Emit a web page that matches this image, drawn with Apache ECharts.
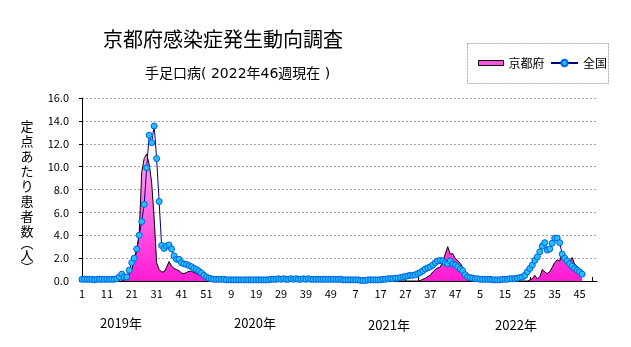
<!DOCTYPE html>
<html><head><meta charset="utf-8">
<script src="https://cdn.jsdelivr.net/npm/echarts@6/dist/echarts.min.js"></script>
<style>html,body{margin:0;padding:0;background:#fff}#c{width:631px;height:347px}</style>
</head><body><div id="c"></div>
<script>
// ---- data ----
const years = [2019, 2020, 2021, 2022];
const weeksPerYear = [52, 52, 52, 52];
const yearLabels = ['2019年', '2020年', '2021年', '2022年'];
const seriesNames = ['京都府', '全国'];
const titleText = '京都府感染症発生動向調査';
const subtitleText = '手足口病( 2022年46週現在 )';
const yAxisTitle = ['定点あたり患者数', '︵人︶'];
const yMin = 0, yMax = 16, yInterval = 2;

// 京都府 (per-sentinel, weekly)
const kyoto2019 = [0,0,0,0,0,0,0,0,0,0,0,0,0,0,0,0,0,
  0.1,0.3,0.6,1.0,1.8,2.6,4.2,9.5,10.7,11.1,10.2,8.6,5.5,1.6,1.0,0.8,0.8,1.2,1.7,1.3,
  1.1,1.0,0.9,0.7,0.65,0.75,0.85,0.85,0.75,0.65,0.55,0.45,0.4,0.3,0.15];
const kyoto2020 = [0,0,0,0,0,0,0,0,0,0,0,0,0,0,0,0,0,0,0,0,0,0,0,0,0,0,
  0,0,0,0,0,0,0,0,0,0,0,0,0,0,0,0,0,0,0,0,0,0,0,0,0,0];
const kyoto2021 = [0,0,0,0,0,0,0,0,0,0,0,0,0,0,0,0,0,0,0,0,0,0,0,0,0,0,0,0,0,0,0,0,
  0.05,0.15,0.25,0.4,0.5,0.8,1.0,1.15,1.2,1.75,2.35,3.0,2.35,2.4,1.95,1.8,1.55,1.2,0.6,0];
const kyoto2022 = [0,0,0,0,0,0,0,0,0,0,0,0,0,0,0,0,0,0,0,0,0,0,0,0,
  0.1,0.2,0.5,0.2,0.35,1.0,0.8,0.65,0.8,1.2,1.6,1.85,1.75,2.4,1.7,2.1,1.65,2.05,1.5,1.25,1.1,0.85];

// 全国
const nation2019 = [0.15,0.15,0.15,0.15,0.15,0.1,0.15,0.15,0.15,0.15,0.15,0.15,0.15,0.15,
  0.2,0.35,0.6,0.35,0.35,0.95,1.6,2.0,2.8,4.0,5.2,6.7,9.9,12.75,12.1,13.55,10.7,6.95,3.1,2.85,3.05,3.15,2.8,
  2.2,1.9,1.9,1.6,1.5,1.45,1.35,1.25,1.1,1.0,0.85,0.7,0.5,0.35,0.25];
const nation2020 = [0.2,0.15,0.15,0.15,0.15,0.15,0.1,0.1,0.1,0.1,0.1,0.1,0.1,0.1,0.1,0.1,0.1,0.1,0.1,0.1,
  0.1,0.1,0.1,0.1,0.15,0.15,0.15,0.2,0.15,0.2,0.15,0.15,0.2,0.15,0.2,0.15,0.15,0.2,0.15,0.2,
  0.15,0.15,0.15,0.15,0.15,0.15,0.15,0.15,0.15,0.15,0.15,0.15];
const nation2021 = [0.15,0.1,0.1,0.1,0.1,0.1,0.1,0.1,0.05,0.05,0.05,0.1,0.1,0.1,0.1,0.1,0.1,0.15,
  0.15,0.2,0.2,0.2,0.25,0.25,0.3,0.35,0.4,0.45,0.5,0.5,0.55,0.65,0.75,0.9,1.05,1.15,1.25,1.4,
  1.6,1.75,1.8,1.75,1.6,1.5,1.75,1.5,1.4,1.25,1.05,0.9,0.55,0.35];
const nation2022 = [0.3,0.25,0.2,0.2,0.15,0.15,0.15,0.15,0.15,0.1,0.1,0.1,0.1,0.15,0.15,0.15,
  0.2,0.2,0.2,0.25,0.3,0.35,
  0.5,0.8,1.1,1.4,1.8,2.1,2.55,3.05,3.35,2.7,2.8,3.3,3.75,3.75,3.35,2.35,2.0,1.75,1.5,1.3,1.1,0.95,0.8,0.6];

// ---- build ----
const categories = [];
years.forEach((y, k) => { for (let w = 1; w <= weeksPerYear[k]; w++) categories.push(y + '-' + w); });
const kyoto = kyoto2019.concat(kyoto2020, kyoto2021, kyoto2022);
const nation = nation2019.concat(nation2020, nation2021, nation2022);

const FONT = '"Noto Sans CJK JP", "Noto Sans", sans-serif';
const FONT_WIDE = '"DejaVu Sans", "Noto Sans CJK JP", sans-serif';
const chart = echarts.init(document.getElementById('c'), null, {renderer: 'canvas'});
chart.setOption({
  animation: false,
  backgroundColor: '#fff',
  title: [
    {text: titleText, left: 103, top: 29, padding: 0,
     textStyle: {fontSize: 20, fontWeight: 'normal', color: '#000', fontFamily: FONT}},
    {text: subtitleText, left: 145, top: 67, padding: 0,
     textStyle: {fontSize: 14, fontWeight: 'normal', color: '#000', fontFamily: FONT_WIDE}}
  ],
  legend: [
    {data: [{name: seriesNames[0], icon: 'rect',
             itemStyle: {color: '#ff55e0', borderColor: '#000', borderWidth: 1}}],
     left: 478, top: 57, padding: 0, itemWidth: 25, itemHeight: 5, itemGap: 0,
     textStyle: {fontSize: 12, color: '#000', fontFamily: FONT}},
    {data: [seriesNames[1]],
     left: 550, top: 57, padding: 0, itemWidth: 27, itemHeight: 8, itemGap: 0,
     textStyle: {fontSize: 12, color: '#000', fontFamily: FONT}}
  ],
  grid: {left: 82, right: 34, top: 98, bottom: 66, containLabel: false},
  xAxis: {
    type: 'category', data: categories, boundaryGap: false,
    axisLine: {lineStyle: {color: '#000', width: 1}},
    axisTick: {interval: 4, inside: true, length: 4, lineStyle: {color: '#000'}},
    axisLabel: {interval: 9, margin: 7, fontSize: 11, color: '#000', fontFamily: FONT,
                formatter: v => v.split('-')[1]},
    splitLine: {show: false}
  },
  yAxis: {
    type: 'value', min: yMin, max: yMax, interval: yInterval,
    axisLine: {show: true, lineStyle: {color: '#000', width: 1}},
    axisTick: {show: true, length: 3, lineStyle: {color: '#000'}},
    axisLabel: {margin: 13, fontSize: 11, color: '#000', fontFamily: FONT,
                formatter: v => v.toFixed(1)},
    splitLine: {show: true, lineStyle: {color: '#a0a0a0', type: [2, 2], width: 1}}
  },
  series: [
    {name: seriesNames[0], type: 'line', data: kyoto, showSymbol: false, symbol: 'none',
     lineStyle: {color: '#000', width: 1}, itemStyle: {color: '#ff55e0'},
     areaStyle: {opacity: 1, color: new echarts.graphic.LinearGradient(0, 0, 0, 1, [
       {offset: 0, color: '#ffa6f2'}, {offset: 1, color: '#ff1ad4'}])},
     emphasis: {disabled: true}, z: 2},
    {name: seriesNames[1], type: 'line', data: nation, showSymbol: true, showAllSymbol: true,
     symbol: 'circle', symbolSize: 6,
     lineStyle: {color: '#000080', width: 1},
     itemStyle: {color: '#22c0ff', borderColor: '#0060e0', borderWidth: 1},
     emphasis: {disabled: true}, z: 3}
  ],
  graphic: [
    {type: 'rect', shape: {x: 467.5, y: 43.5, width: 141, height: 40},
     style: {fill: 'none', stroke: '#aaaaaa', lineWidth: 1, lineDash: [2, 1]}},
    {type: 'text', style: {text: yAxisTitle[0].split('').join('\n'), x: 27, y: 119,
      align: 'center', verticalAlign: 'top', font: '13px ' + FONT, lineHeight: 15, fill: '#000'}},
    {type: 'text', style: {text: yAxisTitle[1].split('').join('\n'), x: 27, y: 237,
      align: 'center', verticalAlign: 'top', font: '13px ' + FONT, lineHeight: 12, fill: '#000'}},
    {type: 'text', style: {text: yearLabels[0], x: 121, y: 323, align: 'center', verticalAlign: 'middle', font: '13px ' + FONT, fill: '#000'}},
    {type: 'text', style: {text: yearLabels[1], x: 255, y: 323, align: 'center', verticalAlign: 'middle', font: '13px ' + FONT, fill: '#000'}},
    {type: 'text', style: {text: yearLabels[2], x: 389, y: 325, align: 'center', verticalAlign: 'middle', font: '13px ' + FONT, fill: '#000'}},
    {type: 'text', style: {text: yearLabels[3], x: 516, y: 325, align: 'center', verticalAlign: 'middle', font: '13px ' + FONT, fill: '#000'}}
  ]
});
</script></body></html>
